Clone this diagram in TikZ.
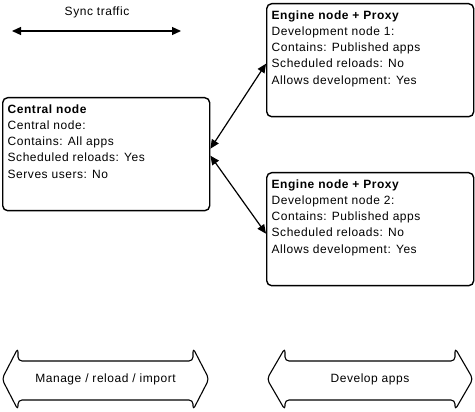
\documentclass[tikz,border=0pt]{standalone}
\usepackage{fontspec}
\setmainfont[LetterSpace=4.5]{Liberation Sans}
\usetikzlibrary{arrows.meta}

\newcommand{\boxtext}[1]{\begin{minipage}[t][99pt][t]{197pt}#1\end{minipage}}

\begin{document}
\begin{tikzpicture}[x=1pt,y=-1pt,>={Triangle[length=9pt,width=8pt]},
        font=\fontsize{12}{16.2}\selectfont,
        infobox/.style={draw,line width=1.4pt,rounded corners=5pt,
              inner xsep=5pt,inner ysep=7pt,minimum width=207pt,
              minimum height=113pt,anchor=north west},
        twoway/.style={draw,line width=1.1pt,rounded corners=4pt,
              line join=round}]
        \useasboundingbox (0,0) rectangle (475,412);

        % top legend
        \node (synclabel) at (97,12) {Sync traffic};
        \coordinate (syncleft) at (12,31);
        \coordinate (syncright) at (181,31);
        \draw[<->,line width=1.2pt] (syncleft) -- (syncright);

        % nodes
        \node[infobox] (central) at (2,97)
              {\boxtext{\textbf{Central node}\\Central node:\\Contains: All apps\\
              Scheduled reloads: Yes\\Serves users: No}};
        \node[infobox] (dev1) at (266,3)
              {\boxtext{\textbf{Engine node + Proxy}\\Development node 1:\\
              Contains: Published apps\\Scheduled reloads: No\\
              Allows development: Yes}};
        \node[infobox] (dev2) at (266,172)
              {\boxtext{\textbf{Engine node + Proxy}\\Development node 2:\\
              Contains: Published apps\\Scheduled reloads: No\\
              Allows development: Yes}};

        \draw[<->,line width=1.2pt] ([yshift=5.5pt]central.east)
              -- ([yshift=-3.5pt]dev1.west);
        \draw[<->,line width=1.2pt] ([yshift=-1.5pt]central.east)
              -- ([yshift=-4.5pt]dev2.west);

        % bottom arrows
        \draw[twoway] (2,379) -- (18,348) -- (18,361) -- (193,361)
              -- (193,348) -- (209,379) -- (193,410) -- (193,400)
              -- (18,400) -- (18,410) -- cycle;
        \node (manage) at (105.5,379) {Manage / reload / import};
        \draw[twoway] (267,379) -- (285,348) -- (285,361) -- (455,361)
              -- (455,348) -- (473,379) -- (455,410) -- (455,400)
              -- (285,400) -- (285,410) -- cycle;
        \node (develop) at (370,379) {Develop apps};
\end{tikzpicture}
\end{document}
